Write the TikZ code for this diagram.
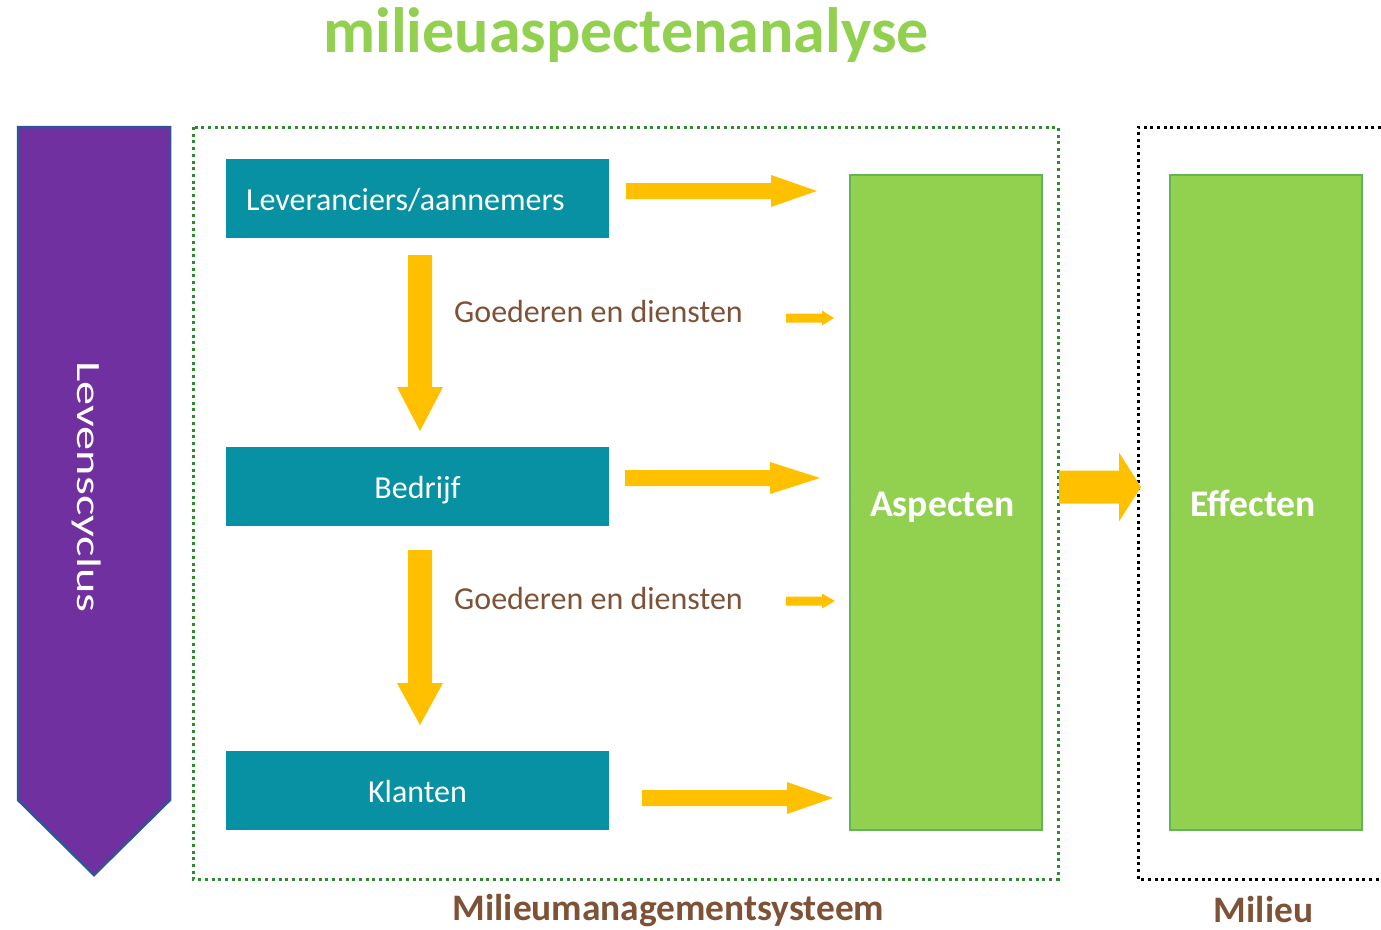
\documentclass[tikz,border=0pt]{standalone}
\usepackage{fontspec}
\setmainfont{Carlito}
\usepackage{graphicx}
\definecolor{lpurple}{HTML}{7030A0}
\definecolor{lpurpleedge}{HTML}{2F5597}
\definecolor{lteal}{HTML}{0891A2}
\definecolor{lgreen}{HTML}{92D050}
\definecolor{lgreenedge}{HTML}{62B556}
\definecolor{ldotgreen}{HTML}{2E8B2E}
\definecolor{lbrown}{HTML}{7E5236}
\definecolor{larrow}{HTML}{FFC000}
\newcommand\harrow[6]{\fill[arrowc] (#1,{#4-#5}) -- (#2,{#4-#5}) -- (#2,{#4-#6}) -- (#3,#4) -- (#2,{#4+#6}) -- (#2,{#4+#5}) -- (#1,{#4+#5}) -- cycle;}
\newcommand\varrow[6]{\fill[arrowc] ({#4-#5},#1) -- ({#4-#5},#2) -- ({#4-#6},#2) -- (#4,#3) -- ({#4+#6},#2) -- ({#4+#5},#2) -- ({#4+#5},#1) -- cycle;}
\tikzset{
  arrowc/.style={fill=larrow},
  tealbox/.style={rectangle, fill=lteal, minimum width=383pt, minimum height=79pt, inner sep=0pt},
  greenbox/.style={rectangle, fill=lgreen, draw=lgreenedge, line width=2pt, minimum width=192pt, minimum height=655pt, inner sep=0pt},
  boxtext/.style={text=white, font=\fontsize{32}{36}\selectfont, inner sep=0pt},
  goedtext/.style={text=lbrown, font=\fontsize{32}{36}\selectfont, inner sep=0pt, anchor=base west},
  bigtext/.style={text=white, font=\bfseries\fontsize{37.6}{42}\selectfont, inner sep=0pt, anchor=base west},
  labeltext/.style={text=lbrown, font=\bfseries\fontsize{37.4}{42}\selectfont, inner sep=0pt, anchor=base},
  dotline/.style={line width=3pt, dash pattern=on 3pt off 3.7pt},
}
\begin{document}
\begin{tikzpicture}[x=1pt,y=-1pt]
\useasboundingbox (0,0) rectangle (1381,929);
% title
\node[text=lgreen, font=\bfseries\fontsize{64}{70}\selectfont, inner sep=0pt, anchor=base] (title) at (626,52) {milieuaspectenanalyse};
% life cycle arrow
\draw[fill=lpurple, draw=lpurpleedge, line width=2.5pt] (18,127) -- (170,127) -- (170,800) -- (94,875) -- (18,800) -- cycle;
\node[text=white, rotate=-90, inner sep=0pt, anchor=base] (cycle) at (77,487) {\scalebox{1.42}[1]{\fontsize{34}{40}\selectfont Levenscyclus}};
% dotted frames
\draw[ldotgreen, dotline] (193,127) rectangle (1058,879);
\draw[black, dotline] (1381,127) -- (1138,127) -- (1138,879) -- (1381,879);
% teal boxes
\node[tealbox] (lev) at (417.5,198.5) {};
\node[boxtext, anchor=base west] (levt) at (246,210) {Leveranciers/aannemers};
\node[tealbox] (bed) at (417.5,486.5) {};
\node[boxtext, anchor=base] (bedt) at (417.5,498) {Bedrijf};
\node[tealbox] (kla) at (417.5,790.5) {};
\node[boxtext, anchor=base] (klat) at (417.5,802) {Klanten};
% goederen labels
\node[goedtext] (g1) at (454,322) {Goederen en diensten};
\node[goedtext] (g2) at (454,609) {Goederen en diensten};
% green boxes
\node[greenbox] (asp) at (946,502.5) {};
\node[bigtext] (aspt) at (870,516) {Aspecten};
\node[greenbox] (eff) at (1266,502.5) {};
\node[bigtext] (efft) at (1190,516) {Effecten};
% arrows
\varrow{255}{387}{431}{420}{12}{23}
\varrow{550}{683}{725}{420}{12}{23}
\harrow{626}{771}{817}{191}{8}{16}
\harrow{786}{822}{834}{318}{4.5}{7.5}
\harrow{625}{770}{820}{478}{8}{16}
\harrow{786}{822}{835}{601}{4.5}{7.5}
\harrow{642}{787}{833}{798}{8}{16}
\harrow{1059}{1119}{1141}{487}{16.5}{34.5}
% bottom labels
\node[labeltext] (mms) at (668.5,920) {Milieumanagementsysteem};
\node[labeltext] (mil) at (1263.5,922) {Milieu};
\end{tikzpicture}
\end{document}
